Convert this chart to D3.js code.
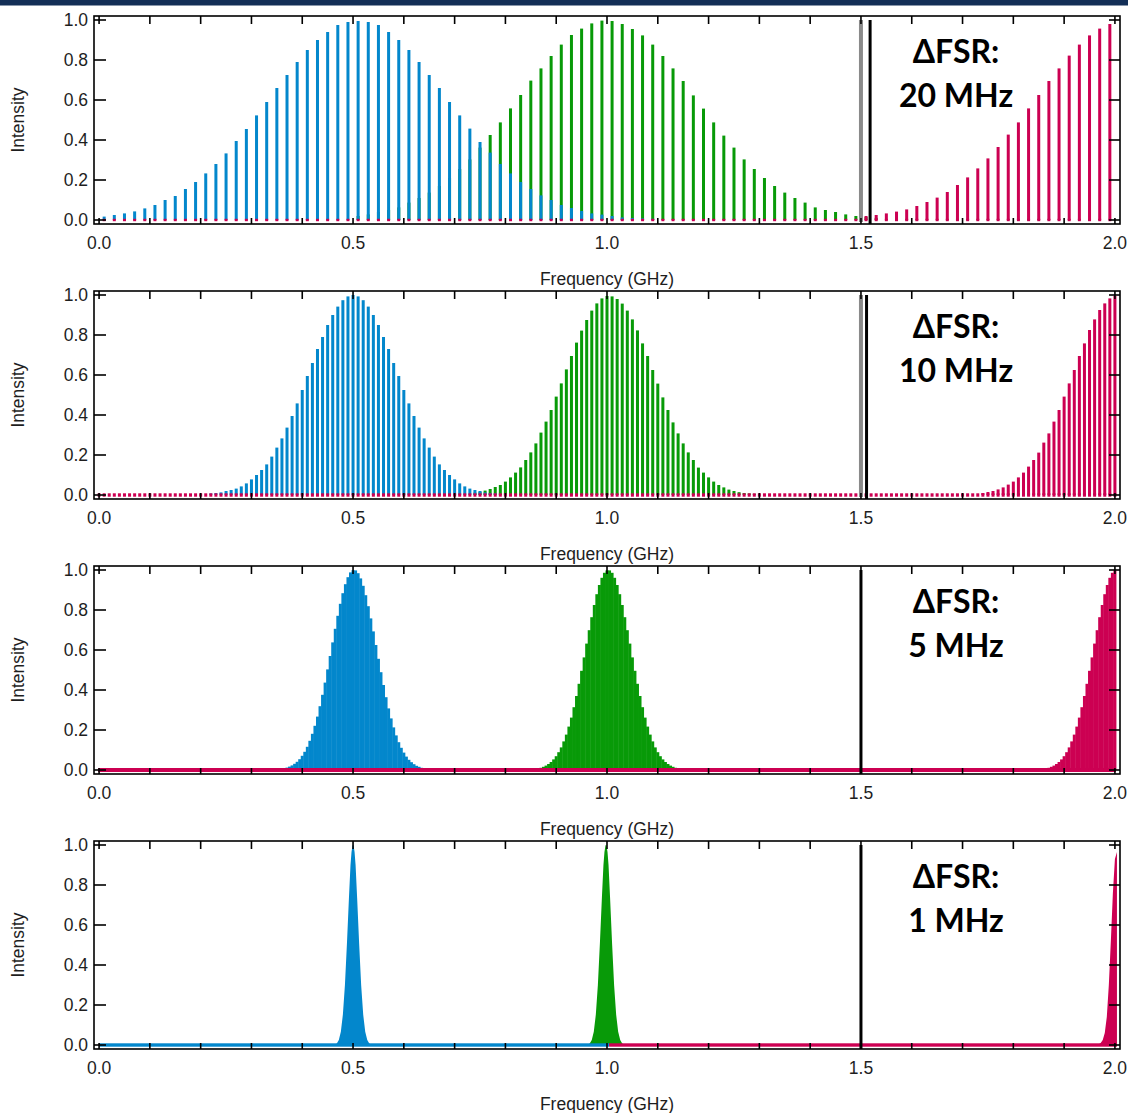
<!DOCTYPE html>
<html><head><meta charset="utf-8">
<script src="https://cdn.jsdelivr.net/npm/d3@7"></script>
<style>
html,body{margin:0;padding:0;background:#fff;}
svg{display:block;}
</style></head><body>
<svg id="chart" width="1128" height="1113"></svg>
<script>
// ---------- labels & shared ----------
const fsrTitle = "\u0394FSR:";
const fsrLabels = ["20 MHz", "10 MHz", "5 MHz", "1 MHz"];
const xTickLabelValues = [0, 0.5, 1.0, 1.5, 2.0];
const xTickLabels = ["0.0", "0.5", "1.0", "1.5", "2.0"];
const yTickValues = [0, 0.2, 0.4, 0.6, 0.8, 1.0];
const yTickLabels = ["0.0", "0.2", "0.4", "0.6", "0.8", "1.0"];
const xTitle = "Frequency (GHz)";
const yTitle = "Intensity";

// comb line spacing (GHz) per panel, first comb line position
const combSpacing = [0.02, 0.01, 0.005, 0.001];
const combFirst = [0.01, 0.0, 0.0, 0.0];
const floorLevel = [0.006, 0.0085, 0.01, 0.0085];
const grayLine = [1.5, 1.5, null, null];
const blackLine = [1.518, 1.511, 1.5, 1.5];

// ---------- Panel 1 : dFSR 20 MHz (comb lines every 0.02 GHz) ----------
const blue1Start = 0.01;
const blue1 = [0.017,0.025,0.033,0.043,0.058,0.075,0.10,0.12,0.155,0.19,0.233,0.28,0.333,0.395,0.455,0.523,0.59,0.66,0.725,0.79,0.85,0.90,0.94,0.975,0.99,0.995,0.99,0.975,0.94,0.90,0.85,0.79,0.725,0.66,0.59,0.523,0.457,0.39,0.337,0.28,0.233,0.19,0.155,0.123,0.10,0.075,0.06,0.045,0.033,0.027,0.02,0.013,0.01,0.008,0.006];
const green1Start = 0.51;
const green1 = [0.02,0.028,0.04,0.05,0.063,0.087,0.11,0.137,0.17,0.21,0.255,0.303,0.362,0.425,0.488,0.558,0.625,0.697,0.758,0.82,0.877,0.925,0.957,0.983,0.997,0.995,0.98,0.955,0.923,0.877,0.82,0.758,0.695,0.623,0.557,0.488,0.422,0.362,0.303,0.255,0.21,0.17,0.137,0.11,0.087,0.063,0.05,0.04,0.028,0.02,0.015,0.011];
const red1Start = 1.51;
const red1 = [0.02,0.025,0.033,0.042,0.053,0.07,0.09,0.112,0.14,0.175,0.213,0.258,0.308,0.365,0.427,0.488,0.558,0.625,0.695,0.758,0.822,0.877,0.923,0.957,0.98];

// ---------- Panel 2 : dFSR 10 MHz (every 0.01 GHz) ----------
const blue2Start = 0.22;
const blue2 = [0.008,0.01,0.013,0.02,0.025,0.032,0.043,0.058,0.078,0.10,0.125,0.153,0.192,0.237,0.283,0.337,0.395,0.458,0.525,0.595,0.66,0.73,0.79,0.85,0.90,0.942,0.974,0.993,1.0,0.993,0.974,0.942,0.90,0.85,0.79,0.73,0.66,0.595,0.525,0.458,0.395,0.337,0.283,0.237,0.192,0.153,0.125,0.10,0.078,0.058,0.043,0.032,0.025,0.02,0.013,0.01,0.008];
const green2Start = 0.74;
const green2 = [0.012,0.016,0.022,0.03,0.04,0.05,0.067,0.088,0.112,0.138,0.175,0.213,0.258,0.312,0.367,0.425,0.492,0.558,0.628,0.695,0.762,0.822,0.875,0.922,0.958,0.983,0.995,0.993,0.98,0.957,0.922,0.878,0.823,0.758,0.695,0.625,0.557,0.488,0.425,0.363,0.308,0.258,0.213,0.175,0.137,0.112,0.088,0.067,0.05,0.038,0.027,0.02,0.014,0.01,0.008,0.006];
const red2Start = 1.74;
const red2 = [0.01,0.015,0.02,0.028,0.038,0.052,0.067,0.088,0.112,0.142,0.175,0.212,0.262,0.308,0.367,0.425,0.492,0.558,0.625,0.695,0.758,0.825,0.878,0.925,0.958,0.983,0.995];

// ---------- Panel 3 : dFSR 5 MHz (every 0.005 GHz) ----------
const blue3Start = 0.37;
const blue3 = [0.012,0.017,0.023,0.031,0.041,0.054,0.071,0.091,0.116,0.146,0.181,0.221,0.267,0.319,0.376,0.437,0.503,0.570,0.638,0.706,0.771,0.831,0.884,0.929,0.964,0.988,0.999,0.998,0.984,0.958,0.921,0.874,0.819,0.758,0.693,0.625,0.556,0.489,0.425,0.364,0.308,0.258,0.213,0.173,0.139,0.111,0.087,0.067,0.051,0.039,0.029,0.021,0.016,0.011];
const green3Start = 0.87;
const green3 = [0.011,0.016,0.022,0.030,0.040,0.053,0.069,0.089,0.113,0.143,0.177,0.217,0.262,0.314,0.370,0.431,0.496,0.563,0.632,0.699,0.764,0.825,0.879,0.925,0.961,0.986,0.998,0.998,0.986,0.961,0.925,0.879,0.825,0.764,0.699,0.632,0.563,0.496,0.431,0.370,0.314,0.262,0.217,0.177,0.143,0.113,0.089,0.069,0.053,0.040,0.030,0.022,0.016,0.011];
const red3Start = 1.87;
const red3 = [0.011,0.016,0.022,0.030,0.040,0.053,0.069,0.089,0.113,0.143,0.177,0.217,0.262,0.314,0.370,0.431,0.496,0.563,0.632,0.699,0.764,0.825,0.879,0.925,0.961,0.986,0.998];

// ---------- Panel 4 : dFSR 1 MHz (dense comb, envelope samples) ----------
const blue4Freq = [0.464,0.468,0.472,0.476,0.480,0.484,0.488,0.492,0.495,0.497,0.499,0.500,0.501,0.503,0.505,0.508,0.512,0.516,0.520,0.524,0.528,0.532,0.536];
const blue4 = [0.002,0.008,0.025,0.066,0.152,0.299,0.507,0.739,0.90,0.965,0.997,1.0,0.997,0.965,0.90,0.739,0.507,0.299,0.152,0.066,0.025,0.008,0.002];
const green4Freq = [0.962,0.966,0.970,0.974,0.978,0.982,0.986,0.990,0.993,0.995,0.997,0.998,0.999,1.001,1.003,1.006,1.010,1.014,1.018,1.022,1.026,1.030,1.034];
const green4 = [0.002,0.008,0.025,0.066,0.152,0.299,0.507,0.739,0.90,0.965,0.997,1.0,0.997,0.965,0.90,0.739,0.507,0.299,0.152,0.066,0.025,0.008,0.002];
const red4Freq = [1.968,1.972,1.976,1.980,1.984,1.988,1.992,1.996,2.000,2.004];
const red4 = [0.004,0.010,0.025,0.060,0.140,0.300,0.520,0.760,0.930,0.965];
const base4Blue = [0.0, 1.004];
const base4Red = [1.004, 2.004];

// ---------- styles ----------
const COL = {blue: "#0387cc", green: "#089a08", red: "#cc0052", gray: "#8a8a8a", black: "#000"};

const barPanels = [
  {green: [green1Start, green1], blue: [blue1Start, blue1], red: [red1Start, red1]},
  {green: [green2Start, green2], blue: [blue2Start, blue2], red: [red2Start, red2]},
  {green: [green3Start, green3], blue: [blue3Start, blue3], red: [red3Start, red3]}
];

const svg = d3.select("#chart");
svg.append("rect").attr("x", 0).attr("y", 0).attr("width", 1128).attr("height", 5.5).attr("fill", "#132f57");

const x = d3.scaleLinear().domain([-0.01, 2.01]).range([94, 1120]);
const PANEL_STEP = 275;

function toBars(start, vals, spacing) {
  return vals.map((v, i) => ({f: +(start + i * spacing).toFixed(4), v}));
}

for (let p = 0; p < 4; p++) {
  const top = 16 + PANEL_STEP * p, bottom = 224 + PANEL_STEP * p;
  const y = d3.scaleLinear().domain([-0.02, 1.02]).range([bottom, top]);
  const g = svg.append("g");
  const sp = combSpacing[p];
  const pxStep = x(sp) - x(0);

  if (p < 3) {
    const bw = p < 2 ? 3 : pxStep + 0.45;
    const P = barPanels[p];
    ["green", "blue", "red"].forEach(key => {
      const data = toBars(P[key][0], P[key][1], sp);
      g.append("g").selectAll("rect").data(data).join("rect")
        .attr("x", d => x(d.f) - bw / 2)
        .attr("width", bw)
        .attr("y", d => y(d.v))
        .attr("height", d => y(0) - y(d.v))
        .attr("fill", COL[key]);
    });
    // red floor
    const fl = floorLevel[p];
    if (p < 2) {
      const n = Math.round((2 - combFirst[p]) / sp);
      const positions = d3.range(0, n + 1).map(i => combFirst[p] + i * sp).filter(f => f <= 2.0001);
      g.append("g").selectAll("rect").data(positions).join("rect")
        .attr("x", f => x(f) - 1.5).attr("width", 3)
        .attr("y", y(fl)).attr("height", y(-fl) - y(fl))
        .attr("fill", COL.red);
    } else {
      g.append("rect").attr("x", x(0) - 1).attr("width", x(2) - x(0) + 2)
        .attr("y", y(fl)).attr("height", y(-fl) - y(fl)).attr("fill", COL.red);
    }
  } else {
    const area = d3.area().x(d => x(d[0])).y0(y(0)).y1(d => y(d[1]));
    g.append("path").datum(d3.zip(green4Freq, green4)).attr("d", area).attr("fill", COL.green);
    g.append("path").datum(d3.zip(blue4Freq, blue4)).attr("d", area).attr("fill", COL.blue);
    const fl = floorLevel[p];
    g.append("rect").attr("x", x(base4Blue[0])).attr("width", x(base4Blue[1]) - x(base4Blue[0]))
      .attr("y", y(fl)).attr("height", y(-fl) - y(fl)).attr("fill", COL.blue);
    g.append("rect").attr("x", x(base4Red[0])).attr("width", x(base4Red[1]) - x(base4Red[0]))
      .attr("y", y(fl)).attr("height", y(-fl) - y(fl)).attr("fill", COL.red);
    g.append("path").datum(d3.zip(red4Freq, red4)).attr("d", area).attr("fill", COL.red);
  }

  // vertical markers
  if (grayLine[p] !== null) {
    g.append("line").attr("x1", x(grayLine[p])).attr("x2", x(grayLine[p]))
      .attr("y1", y(1.0)).attr("y2", y(-0.01)).attr("stroke", COL.gray).attr("stroke-width", 4);
  }
  g.append("line").attr("x1", x(blackLine[p])).attr("x2", x(blackLine[p]))
    .attr("y1", y(1.0)).attr("y2", bottom).attr("stroke", COL.black).attr("stroke-width", 3);

  // frame and ticks
  const ax = svg.append("g").attr("stroke", "#000");
  ax.append("rect").attr("x", 94).attr("y", top).attr("width", 1120 - 94).attr("height", bottom - top)
    .attr("fill", "none").attr("stroke-width", 1.6);
  const xt = x.ticks(20).filter(v => v >= 0 && v <= 2.0001);
  ax.selectAll(".tt").data(xt).join("line").attr("class", "tt")
    .attr("x1", d => x(d)).attr("x2", d => x(d)).attr("y1", top).attr("y2", top + 8).attr("stroke-width", 1.6);
  ax.selectAll(".tb").data(xt).join("line").attr("class", "tb")
    .attr("x1", d => x(d)).attr("x2", d => x(d)).attr("y1", bottom).attr("y2", bottom - 6).attr("stroke-width", 1.6);
  ax.selectAll(".tl").data(yTickValues).join("line").attr("class", "tl")
    .attr("x1", 94).attr("x2", 94 + 12).attr("y1", d => y(d)).attr("y2", d => y(d)).attr("stroke-width", 1.6);
  ax.selectAll(".tr").data(yTickValues).join("line").attr("class", "tr")
    .attr("x1", 1120).attr("x2", 1120 - 11).attr("y1", d => y(d)).attr("y2", d => y(d)).attr("stroke-width", 1.6);

  // tick labels
  const lab = svg.append("g").attr("font-family", "'Liberation Sans', Arial, sans-serif")
    .attr("font-size", 17.5).attr("fill", "#1e1e1e");
  lab.selectAll(".xl").data(xTickLabelValues).join("text").attr("class", "xl")
    .attr("x", d => x(d)).attr("y", bottom + 13).attr("dy", "0.71em").attr("text-anchor", "middle")
    .text((d, i) => xTickLabels[i]);
  lab.selectAll(".yl").data(yTickValues).join("text").attr("class", "yl")
    .attr("x", 88).attr("y", d => y(d)).attr("dy", "0.36em").attr("text-anchor", "end")
    .text((d, i) => yTickLabels[i]);
  lab.append("text").attr("x", x(1.0)).attr("y", bottom + 55).attr("dy", "0.36em")
    .attr("text-anchor", "middle").text(xTitle);
  lab.append("text").attr("transform", `translate(18,${(y(0) + y(1)) / 2}) rotate(-90)`)
    .attr("dy", "0.36em").attr("text-anchor", "middle").text(yTitle);

  // annotation
  const ann = svg.append("g").attr("font-family", "Lato, 'Open Sans', 'DejaVu Sans', sans-serif")
    .attr("font-weight", 700).attr("font-size", 32).attr("fill", "#000").attr("text-anchor", "middle");
  ann.append("text").attr("x", 956).attr("y", 63 + PANEL_STEP * p).text(fsrTitle);
  ann.append("text").attr("x", 956).attr("y", 107 + PANEL_STEP * p).text(fsrLabels[p]);
}
</script>
</body></html>
